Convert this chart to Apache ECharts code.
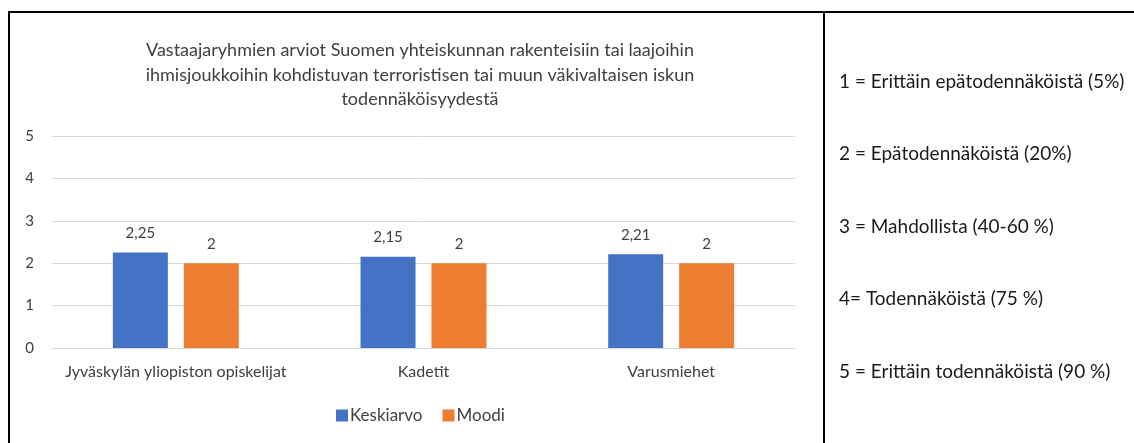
<!DOCTYPE html>
<html>
<head>
<meta charset="utf-8">
<script src="https://cdn.jsdelivr.net/npm/echarts@6/dist/echarts.min.js"></script>
<style>
  html, body { margin: 0; padding: 0; background: #fff; }
  #chart { width: 1134px; height: 443px; }
</style>
</head>
<body>
<div id="chart"></div>
<script>
// ryhmät ja arvot
const categories = ['Jyväskylän yliopiston opiskelijat', 'Kadetit', 'Varusmiehet']
const keskiarvo = [2.25, 2.15, 2.21]
const moodi = [2, 2, 2]
const yTicks = [0, 1, 2, 3, 4, 5]
const scaleNotes = [
  '1 = Erittäin epätodennäköistä (5%)',
  '2 = Epätodennäköistä (20%)',
  '3 = Mahdollista (40-60 %)',
  '4= Todennäköistä (75 %)',
  '5 = Erittäin todennäköistä (90 %)'
]

const font = 'Lato, "Open Sans", sans-serif'
const chart = echarts.init(document.getElementById('chart'))

const labelFmt = p => String(p.value).replace('.', ',')

chart.setOption({
  animation: false,
  textStyle: { fontFamily: font },
  title: {
    text: 'Vastaajaryhmien arviot Suomen yhteiskunnan rakenteisiin tai laajoihin\nihmisjoukkoihin kohdistuvan terroristisen tai muun väkivaltaisen iskun\ntodennäköisyydestä',
    left: 415,
    top: 33,
    textAlign: 'center',
    textStyle: { fontFamily: font, fontSize: 18, fontWeight: 'normal', color: '#404040', lineHeight: 24.5 }
  },
  legend: {
    top: 402,
    left: 331,
    itemWidth: 12,
    itemHeight: 12,
    itemGap: 20,
    itemStyle: { borderWidth: 0 },
    icon: 'rect',
    textStyle: { fontFamily: font, fontSize: 17, color: '#404040', padding: [0, 0, 0, -3] },
    data: ['Keskiarvo', 'Moodi']
  },
  grid: { left: 52, right: 1134 - 795, top: 136, bottom: 443 - 348, containLabel: false },
  xAxis: {
    type: 'category',
    data: categories,
    axisLine: { lineStyle: { color: '#d9d9d9' } },
    axisTick: { show: false },
    axisLabel: { interval: 0, fontFamily: font, fontSize: 16, color: '#404040', margin: 16 }
  },
  yAxis: {
    type: 'value',
    min: yTicks[0],
    max: yTicks[yTicks.length - 1],
    interval: 1,
    axisLine: { show: false },
    axisTick: { show: false },
    splitLine: { lineStyle: { color: '#d9d9d9' } },
    axisLabel: { fontFamily: font, fontSize: 15, color: '#404040', margin: 18 }
  },
  series: [
    {
      name: 'Keskiarvo',
      type: 'bar',
      data: keskiarvo,
      barWidth: 55,
      barGap: '29%',
      itemStyle: { color: '#4472c4' },
      label: { show: true, position: 'top', distance: 12, formatter: labelFmt, fontFamily: font, fontSize: 15, color: '#404040' }
    },
    {
      name: 'Moodi',
      type: 'bar',
      data: moodi,
      barWidth: 55,
      itemStyle: { color: '#ed7d31' },
      label: { show: true, position: 'top', distance: 12, formatter: labelFmt, fontFamily: font, fontSize: 15, color: '#404040' }
    }
  ],
  graphic: [
    { type: 'line', shape: { x1: 8, y1: 12, x2: 1134, y2: 12 }, style: { stroke: '#000', lineWidth: 2 } },
    { type: 'line', shape: { x1: 9, y1: 12, x2: 9, y2: 443 }, style: { stroke: '#000', lineWidth: 2 } },
    { type: 'line', shape: { x1: 824, y1: 12, x2: 824, y2: 443 }, style: { stroke: '#000', lineWidth: 2 } }
  ].concat(scaleNotes.map((t, i) => ({
    type: 'text',
    left: 839,
    top: 72 + i * 72.5,
    style: { text: t, fontFamily: font, fontSize: 19, fill: '#1a1a1a' }
  })))
})
</script>
</body>
</html>
